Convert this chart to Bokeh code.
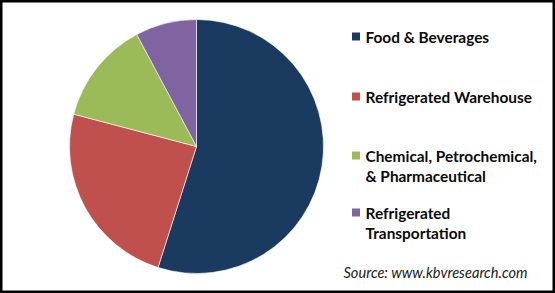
import numpy as np
from bokeh.plotting import figure
from bokeh.models import ColumnDataSource
from bokeh.core.properties import value
from bokeh.embed import file_html
from bokeh.resources import INLINE

# ---- data ----
categories = ["Food & Beverages", "Refrigerated Warehouse",
              "Chemical, Petrochemical, & Pharmaceutical", "Refrigerated Transportation"]
shares = [54.9, 24.2, 13.1, 7.8]
colors = ["#1b3a5f", "#c0504d", "#9bbb59", "#8064a2"]
legend_lines = [["Food & Beverages"], ["Refrigerated Warehouse"],
                ["Chemical, Petrochemical,", "& Pharmaceutical"],
                ["Refrigerated", "Transportation"]]
source_note = "Source: www.kbvresearch.com"

W, H = 555, 293
p = figure(width=W, height=H, x_range=(0, W), y_range=(0, H),
           output_backend="svg", toolbar_location=None, min_border=0)
p.axis.visible = False
p.grid.visible = False
p.outline_line_color = "black"
p.outline_line_width = 4
p.background_fill_color = "white"
p.border_fill_color = "white"

# ---- pie ----
cx, cy, r = 196, H - 146, 127
frac = np.array(shares) / sum(shares)
cum = np.concatenate([[0], np.cumsum(frac)]) * 2 * np.pi
start = np.pi / 2 - cum[1:]
end = np.pi / 2 - cum[:-1]
src = ColumnDataSource(dict(start=start, end=end, color=colors))
p.wedge(x=cx, y=cy, radius=r, start_angle="start", end_angle="end",
        direction="anticlock", fill_color="color", line_color="white",
        line_width=0.6, source=src)

# ---- legend ----
first_line_y = [36, 96, 155, 212]
line_gap = 20
sq_x, tx = 355.5, 365
sq_ys, txt_x, txt_y, txt = [], [], [], []
for i, lines in enumerate(legend_lines):
    sq_ys.append(H - first_line_y[i])
    for j, ln in enumerate(lines):
        txt_x.append(tx)
        txt_y.append(H - (first_line_y[i] + j * line_gap))
        txt.append(ln)
p.rect(x=[sq_x] * len(colors), y=sq_ys, width=8, height=8,
       fill_color=colors, line_color=None)
p.text(x=txt_x, y=txt_y, text=txt, text_font=value("Lato"),
       text_font_style="bold", text_font_size="15.4px",
       text_baseline="middle", text_color="#0a0a0a")

# ---- source ----
p.text(x=[343], y=[H - 272], text=[source_note], text_font=value("Lato"),
       text_font_style="italic", text_font_size="14.6px",
       text_baseline="middle", text_color="#1a1a1a")

open("out.html", "w").write(file_html(p, INLINE))
